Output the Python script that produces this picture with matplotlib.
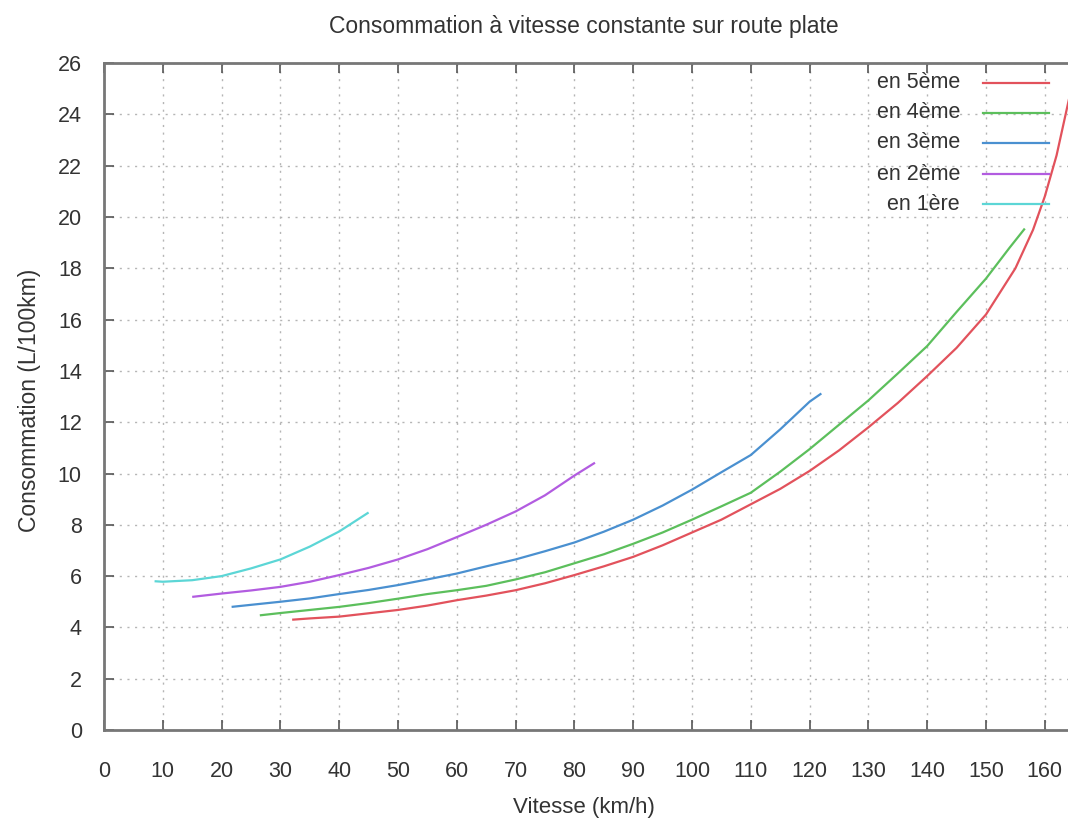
import matplotlib
matplotlib.use("Agg")
import matplotlib.pyplot as plt
from matplotlib.lines import Line2D

plt.rcParams['font.family'] = ['Liberation Sans', 'DejaVu Sans']

title = "Consommation à vitesse constante sur route plate"
xlabel = "Vitesse (km/h)"
ylabel = "Consommation (L/100km)"

labels = ["en 5ème", "en 4ème", "en 3ème", "en 2ème", "en 1ère"]
colors = ["#e2525c", "#5cbf5c", "#4a90d0", "#b25ce0", "#5cd6d6"]

v5 = [32, 35, 40, 45, 50, 55, 60, 65, 70, 75, 80, 85, 90, 95, 100, 105, 110, 115,
      120, 125, 130, 135, 140, 145, 150, 155, 158, 160, 162, 164.5]
c5 = [4.3, 4.35, 4.42, 4.55, 4.68, 4.85, 5.06, 5.24, 5.45, 5.72, 6.04, 6.38, 6.75,
      7.2, 7.7, 8.2, 8.8, 9.4, 10.1, 10.9, 11.8, 12.75, 13.8, 14.9, 16.2, 18.0,
      19.5, 20.8, 22.4, 25.0]

v4 = [26.5, 30, 35, 40, 45, 50, 55, 60, 65, 70, 75, 80, 85, 90, 95, 100, 105, 110,
      115, 120, 125, 130, 135, 140, 145, 150, 154, 156.6]
c4 = [4.47, 4.56, 4.68, 4.8, 4.95, 5.12, 5.3, 5.45, 5.62, 5.87, 6.15, 6.5, 6.85,
      7.26, 7.7, 8.2, 8.72, 9.25, 10.07, 10.95, 11.9, 12.85, 13.9, 14.97, 16.3,
      17.6, 18.8, 19.55]

v3 = [21.7, 25, 30, 35, 40, 45, 50, 55, 60, 65, 70, 75, 80, 85, 90, 95, 100, 105,
      110, 115, 120, 122]
c3 = [4.8, 4.88, 5.0, 5.13, 5.3, 5.46, 5.65, 5.87, 6.1, 6.38, 6.65, 6.97, 7.31,
      7.73, 8.2, 8.75, 9.37, 10.05, 10.72, 11.72, 12.8, 13.12]

v2 = [15, 20, 25, 30, 35, 40, 45, 50, 55, 60, 65, 70, 75, 80, 83.5]
c2 = [5.19, 5.32, 5.44, 5.58, 5.78, 6.04, 6.32, 6.65, 7.05, 7.52, 8.0, 8.52, 9.15,
      9.92, 10.42]

v1 = [8.6, 10, 15, 20, 25, 30, 35, 40, 45]
c1 = [5.8, 5.78, 5.84, 6.0, 6.3, 6.65, 7.15, 7.74, 8.48]

xticks = list(range(0, 161, 10))
yticks = list(range(0, 27, 2))

W, H = 1068, 824
fig = plt.figure(figsize=(W / 100, H / 100), dpi=100)
x0_px, y0_px = 104, 730
px_per_x = 5.88
px_per_y = 25.65
xmax = 166
ax = fig.add_axes([x0_px / W, 1 - y0_px / H, xmax * px_per_x / W, 26 * px_per_y / H])
ax.set_xlim(0, xmax)
ax.set_ylim(0, 26)

series = [(v5, c5), (v4, c4), (v3, c3), (v2, c2), (v1, c1)]
for (v, c), col in zip(series, colors):
    ax.plot(v, c, color=col, lw=1.6, solid_capstyle='butt', zorder=3)

ax.set_xticks(xticks)
ax.set_yticks(yticks)
txtcol = "#333333"
ax.tick_params(direction='in', length=7, width=1.2, color='#555555',
               top=True, right=True, labelsize=15.5, labelcolor=txtcol)
ax.tick_params(axis='x', pad=22)
ax.tick_params(axis='y', pad=16)
ax.grid(True, color='#b5b5b5', lw=1.0, linestyle=(0, (1.5, 4)))
for s in ax.spines.values():
    s.set_color('#777777')
    s.set_linewidth(2)

fig.text(584 / W, 1 - 27 / H, title, ha='center', va='center', fontsize=16.5, color=txtcol)
fig.text(584 / W, 1 - 808 / H, xlabel, ha='center', va='center', fontsize=16, color=txtcol)
fig.text(30 / W, 1 - 400 / H, ylabel, ha='center', va='center', rotation=90,
         fontsize=16.5, color=txtcol)

# legend (top right, text right-aligned, samples on the right)
row_px = [83, 113, 143, 174, 204]
for lab, col, ry in zip(labels, colors, row_px):
    yf = 1 - ry / H
    fig.text(960 / W, yf, lab, ha='right', va='center', fontsize=15.5, color=txtcol)
    fig.add_artist(Line2D([983 / W, 1049 / W], [yf, yf], color=col, lw=1.6,
                          transform=fig.transFigure))

fig.savefig("out.png", dpi=100, facecolor='white')
